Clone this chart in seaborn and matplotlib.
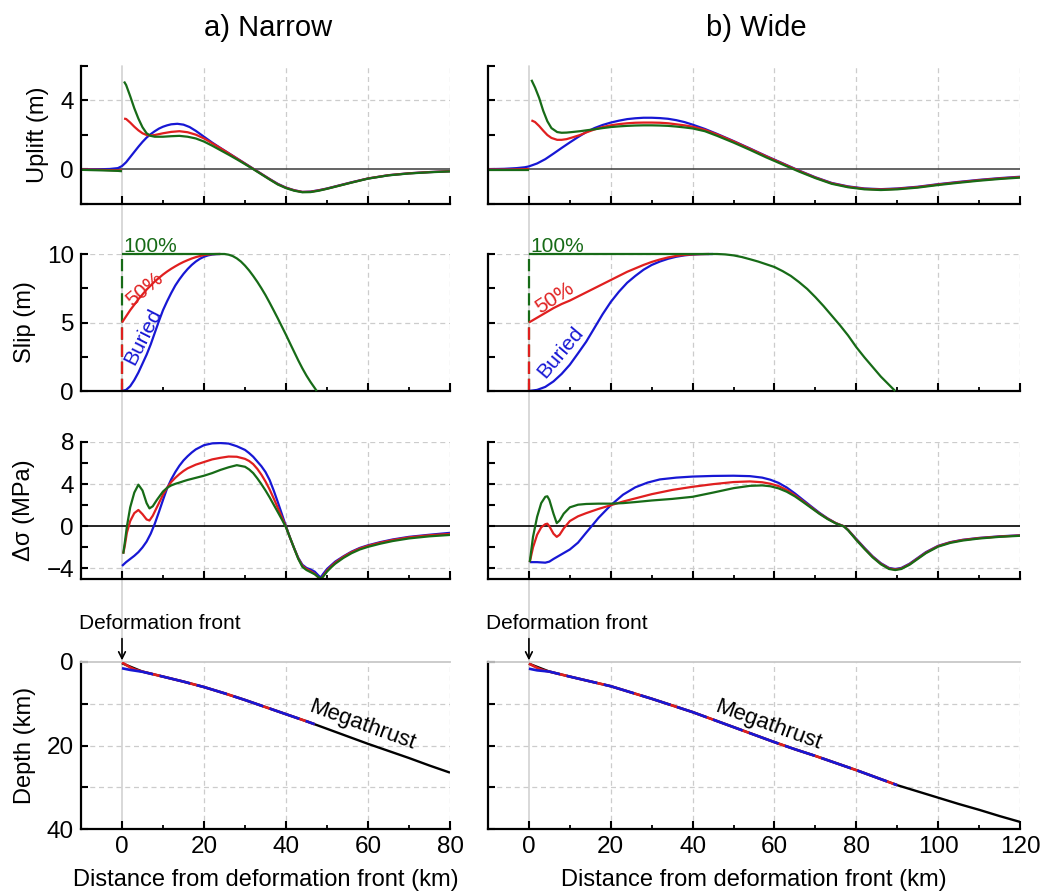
import numpy as np
import matplotlib
matplotlib.use("Agg")
import matplotlib.pyplot as plt
import matplotlib.transforms as mtransforms
from matplotlib.lines import Line2D
from matplotlib.ticker import FixedLocator, NullFormatter, FixedFormatter
import seaborn as sns

# ---------------------------------------------------------------- data
# Surface uplift (m), narrow slip model
NARROW_UPLIFT_BURIED_X = [-10, -6, -3, -1, 0, 1, 2, 3, 4, 5, 6, 7, 8, 9, 10, 11, 12, 13.5, 15, 16.5, 18,
                          20, 22, 24, 26, 28, 30, 32, 34, 36, 38, 40, 42, 44, 46, 48, 50,
                          53, 56, 60, 65, 70, 75, 80]
NARROW_UPLIFT_BURIED = [0, 0.01, 0.03, 0.08, 0.2, 0.42, 0.72, 1.02, 1.32, 1.6, 1.85, 2.05, 2.22, 2.37, 2.48, 2.56, 2.62,
                        2.65, 2.6, 2.46, 2.24,
                        1.9, 1.56, 1.25, 0.95, 0.65, 0.35, 0.05, -0.25, -0.55, -0.83, -1.05, -1.2, -1.3, -1.28, -1.2, -1.1,
                        -0.92, -0.74, -0.52, -0.33, -0.22, -0.15, -0.1]
NARROW_UPLIFT_SEAWARD_X = [-10, -5, -1, 0]
NARROW_UPLIFT_SEAWARD_50 = [0, -0.02, -0.05, -0.06]
NARROW_UPLIFT_SEAWARD_100 = [-0.02, -0.05, -0.08, -0.1]
NARROW_UPLIFT_X = [0.5, 1, 2, 3, 4, 5, 6, 7, 8,
                   10, 12, 14, 16, 18, 20, 22, 24, 26, 28, 30, 32, 34, 36, 38, 40, 42, 44, 46, 48, 50,
                   53, 56, 60, 65, 70, 75, 80]
NARROW_UPLIFT_50 = [2.95, 2.93, 2.72, 2.48, 2.27, 2.1, 2.0, 1.97, 2.0,
                    2.1, 2.18, 2.22, 2.16, 2.02, 1.8, 1.52, 1.24, 0.94, 0.64, 0.34, 0.04, -0.26, -0.56, -0.85,
                    -1.06, -1.21, -1.3, -1.29, -1.21, -1.11,
                    -0.93, -0.75, -0.52, -0.33, -0.22, -0.15, -0.1]
NARROW_UPLIFT_100 = [5.1, 4.9, 4.25, 3.55, 2.95, 2.45, 2.1, 1.95, 1.9,
                     1.9, 1.93, 1.95, 1.9, 1.8, 1.62, 1.38, 1.12, 0.86, 0.59, 0.31, 0.02, -0.28, -0.58, -0.87,
                     -1.08, -1.23, -1.32, -1.31, -1.23, -1.12,
                     -0.94, -0.76, -0.53, -0.34, -0.23, -0.16, -0.11]

# Surface uplift (m), wide slip model
WIDE_UPLIFT_BURIED_X = [-10, -6, -3, -1, 0, 2, 4, 6, 8, 10, 12, 14, 16, 18, 20, 22, 24, 26, 28, 30, 32, 34, 36, 38,
                        40, 43, 46, 50, 54, 58, 62, 66, 70, 74, 78, 82, 86, 90, 95, 100, 105, 110, 115, 120]
WIDE_UPLIFT_BURIED = [0.02, 0.04, 0.08, 0.13, 0.18, 0.35, 0.6, 0.92, 1.25, 1.57, 1.88, 2.17, 2.4, 2.58, 2.72, 2.83,
                      2.92, 2.97, 3.0, 3.0, 2.98, 2.94, 2.86, 2.75, 2.6, 2.35, 2.06, 1.65, 1.22, 0.78, 0.36, -0.06,
                      -0.45, -0.78, -0.98, -1.1, -1.14, -1.1, -1.0, -0.85, -0.72, -0.6, -0.5, -0.42]
WIDE_UPLIFT_SEAWARD_X = [-10, -5, -1, 0]
WIDE_UPLIFT_SEAWARD_50 = [0.0, 0.0, 0.02, 0.03]
WIDE_UPLIFT_SEAWARD_100 = [-0.02, -0.02, -0.02, -0.02]
WIDE_UPLIFT_X = [0.6, 1.5, 2.5, 3.5, 4.5, 5.5, 6.9, 8, 9.2, 10.5, 12.5, 14,
                 16, 18, 20, 22, 24, 26, 28, 30, 32, 34, 36, 38, 40,
                 43, 46, 50, 54, 58, 62, 66, 70, 74, 78, 82, 86, 90,
                 95, 100, 105, 110, 115, 120]
WIDE_UPLIFT_50 = [2.85, 2.75, 2.52, 2.25, 2.0, 1.83, 1.72, 1.72, 1.76, 1.85, 2.0, 2.15,
                  2.32, 2.46, 2.56, 2.63, 2.68, 2.71, 2.72, 2.72, 2.71, 2.68, 2.62, 2.56, 2.48,
                  2.3, 2.03, 1.63, 1.2, 0.76, 0.34, -0.08, -0.47, -0.8, -1.0, -1.12, -1.16, -1.12,
                  -1.02, -0.87, -0.74, -0.62, -0.52, -0.44]
WIDE_UPLIFT_100 = [5.2, 4.75, 4.15, 3.4, 2.8, 2.4, 2.17, 2.13, 2.14, 2.17, 2.22, 2.27,
                   2.33, 2.4, 2.46, 2.5, 2.53, 2.55, 2.56, 2.56, 2.55, 2.53, 2.49, 2.44, 2.38,
                   2.22, 1.95, 1.56, 1.14, 0.7, 0.29, -0.12, -0.5, -0.83, -1.03, -1.15, -1.19, -1.15,
                   -1.05, -0.9, -0.77, -0.65, -0.55, -0.47]

# Slip on the megathrust (m)
NARROW_SLIP_X = [0, 1, 2, 3, 4, 5, 6, 7, 8, 9, 10, 11, 12, 13, 14, 15, 16, 17, 18, 19, 20, 21, 22, 23, 24]
NARROW_SLIP_BURIED = [0, 0.08, 0.35, 0.8, 1.35, 2.0, 2.65, 3.4, 4.25, 5.1, 5.9, 6.55, 7.15, 7.7, 8.15, 8.55, 8.9,
                      9.2, 9.45, 9.65, 9.8, 9.9, 9.96, 9.99, 10]
NARROW_SLIP_50 = [5.0, 5.45, 5.9, 6.3, 6.7, 7.05, 7.4, 7.7, 8.0, 8.25, 8.5, 8.72, 8.92, 9.1, 9.27, 9.42, 9.55,
                  9.67, 9.77, 9.85, 9.92, 9.96, 9.99, 10, 10]
NARROW_SLIP_100_X = [0, 25, 26, 27, 28, 29, 30, 31, 32, 33, 34, 35, 36, 37, 38, 39, 40, 41, 42, 43, 44, 45, 46,
                     47, 47.5]
NARROW_SLIP_100 = [10, 10, 9.95, 9.85, 9.68, 9.45, 9.15, 8.8, 8.4, 7.97, 7.5, 7.0, 6.45, 5.88, 5.3, 4.7, 4.1,
                   3.47, 2.85, 2.23, 1.65, 1.12, 0.65, 0.22, 0]

WIDE_SLIP_BURIED_X = [0, 2, 4, 6, 8, 10, 12, 14, 16, 18, 20, 22, 24, 26, 28, 30, 32, 34, 36, 38, 40, 42, 45]
WIDE_SLIP_BURIED = [0, 0.08, 0.3, 0.7, 1.25, 1.92, 2.75, 3.6, 4.6, 5.6, 6.5, 7.25, 7.9, 8.4, 8.85, 9.2, 9.45,
                    9.65, 9.8, 9.9, 9.96, 9.99, 10]
WIDE_SLIP_50_X = [0, 2, 4, 6, 8, 10, 12, 14, 16, 18, 20, 22, 24, 26, 28, 30, 32, 34, 36, 38, 40, 42, 44]
WIDE_SLIP_50 = [5.0, 5.35, 5.7, 6.05, 6.35, 6.6, 6.9, 7.2, 7.5, 7.8, 8.1, 8.4, 8.7, 8.95, 9.2, 9.42, 9.6, 9.75,
                9.86, 9.93, 9.97, 9.99, 10]
WIDE_SLIP_100_X = [0, 46, 48, 50, 52, 54, 56, 58, 60, 62, 64, 66, 68, 70, 72, 74, 76, 78, 80, 82, 84, 86, 88,
                   89, 89.5]
WIDE_SLIP_100 = [10, 10, 9.97, 9.9, 9.78, 9.62, 9.45, 9.25, 9.05, 8.75, 8.4, 7.95, 7.45, 6.85, 6.2, 5.5, 4.8,
                 4.05, 3.2, 2.45, 1.75, 1.05, 0.45, 0.15, 0]

# Stress change (MPa)
NARROW_STRESS_BURIED_X = [0, 1, 2, 3, 4, 5, 6, 7, 8, 9, 10, 11, 12, 13, 14, 15, 16, 17, 18, 19, 20,
                          22, 24, 26, 28, 30,
                          31, 32, 33, 34, 35, 36, 37, 38, 39, 40, 41, 42, 43, 44, 45, 46, 47, 48,
                          48.5, 49, 50, 51, 52,
                          54, 56, 58, 60, 63, 66, 70, 75, 80]
NARROW_STRESS_BURIED = [-3.76, -3.4, -3.1, -2.8, -2.45, -2.0, -1.45, -0.7, 0.25, 1.35, 2.5, 3.6, 4.45, 5.15, 5.75,
                        6.25, 6.65, 7.0, 7.3, 7.5, 7.7,
                        7.87, 7.9, 7.85, 7.6, 7.25,
                        6.95, 6.6, 6.15, 5.7, 5.15, 4.4, 3.4, 2.3, 1.15, 0, -1.1, -2.1, -3.0, -3.65, -3.95, -4.1,
                        -4.3, -4.7,
                        -4.85, -4.55, -4.05, -3.7, -3.35,
                        -2.85, -2.4, -2.05, -1.8, -1.5, -1.25, -1.0, -0.8, -0.62]
NARROW_STRESS_X = [0.3, 0.7, 1.2, 2, 3, 4, 5, 6, 6.7, 7.5, 8.5,
                   10, 11, 12, 13, 14, 15, 16,
                   18, 20, 22, 24, 26, 28, 30,
                   31, 32, 33, 34, 35, 36, 37, 38, 39, 40, 41, 42, 43, 44, 45, 46, 47, 48,
                   48.5, 49, 50, 51, 52,
                   54, 56, 58, 60, 63, 66, 70, 75, 80]
NARROW_STRESS_50 = [-2.6, -1.8, -0.6, 0.5, 1.25, 1.55, 1.15, 0.65, 0.55, 1.0, 1.8,
                    3.0, 3.65, 4.2, 4.6, 4.95, 5.25, 5.5,
                    5.85, 6.1, 6.35, 6.5, 6.62, 6.6, 6.4,
                    6.2, 5.9, 5.45, 4.9, 4.25, 3.5, 2.65, 1.75, 0.85, -0.05, -1.1, -2.1, -3.05, -3.75, -4.05, -4.25,
                    -4.5, -4.9,
                    -5.05, -4.75, -4.2, -3.8, -3.45,
                    -2.9, -2.45, -2.1, -1.85, -1.55, -1.3, -1.05, -0.85, -0.72]
NARROW_STRESS_100 = [-2.6, -1.5, 0.0, 1.8, 3.2, 3.95, 3.4, 2.2, 1.7, 1.9, 2.5,
                     3.3, 3.65, 3.88, 4.03, 4.15, 4.28, 4.4,
                     4.6, 4.8, 5.05, 5.35, 5.6, 5.8, 5.65,
                     5.4, 5.05, 4.55, 4.0, 3.4, 2.75, 2.05, 1.35, 0.65, -0.1, -1.1, -2.1, -3.1, -3.85, -4.15, -4.35,
                     -4.55, -4.85,
                     -4.95, -4.8, -4.3, -3.9, -3.55,
                     -3.0, -2.55, -2.2, -1.95, -1.65, -1.4, -1.15, -0.95, -0.82]

WIDE_STRESS_BURIED_X = [0.2, 2, 4, 5, 6, 8, 10, 12, 14, 15.3,
                        17, 20, 23, 26, 29, 32, 36, 40, 45, 50,
                        54, 57, 59, 61, 63, 65, 67, 69, 71, 73,
                        75, 77, 78, 80, 82, 84, 86, 88, 89.5, 91,
                        93, 95, 97, 100, 103, 106, 110, 115, 120]
WIDE_STRESS_BURIED = [-3.4, -3.4, -3.45, -3.35, -3.1, -2.65, -2.2, -1.55, -0.6, 0,
                      0.8, 2.0, 3.0, 3.7, 4.15, 4.45, 4.62, 4.72, 4.78, 4.8,
                      4.76, 4.62, 4.42, 4.12, 3.68, 3.12, 2.5, 1.88, 1.28, 0.75,
                      0.3, 0, -0.35, -1.2, -2.05, -2.85, -3.5, -3.95, -4.05, -3.95,
                      -3.55, -3.0, -2.45, -1.85, -1.5, -1.28, -1.1, -0.95, -0.85]
WIDE_STRESS_X = [0.2, 1, 2, 3, 4, 4.5, 5, 6, 6.8, 7.5,
                 8.5, 10, 12, 14, 17, 20, 23, 26, 30, 35,
                 40, 45, 50, 54, 57, 59, 61, 63, 65, 67,
                 69, 71, 73, 75, 77, 78, 80, 82, 84, 86,
                 88, 89.5, 91, 93, 95, 97, 100, 103, 106, 110,
                 115, 120]
WIDE_STRESS_50 = [-3.4, -2.0, -0.8, -0.1, 0.2, 0.25, 0.0, -0.7, -1.0, -0.8,
                  -0.2, 0.5, 0.95, 1.25, 1.65, 2.0, 2.35, 2.65, 3.05, 3.45,
                  3.75, 4.0, 4.2, 4.26, 4.18, 4.04, 3.82, 3.45, 2.95, 2.38,
                  1.8, 1.22, 0.72, 0.3, 0.0, -0.35, -1.25, -2.1, -2.9, -3.55,
                  -4.0, -4.1, -4.0, -3.6, -3.05, -2.5, -1.88, -1.52, -1.3, -1.12,
                  -0.97, -0.87]
WIDE_STRESS_100 = [-3.4, -1.0, 0.9, 2.2, 2.8, 2.85, 2.5, 1.2, 0.3, 0.55,
                   1.2, 1.8, 2.05, 2.12, 2.15, 2.15, 2.2, 2.3, 2.45, 2.6,
                   2.8, 3.2, 3.62, 3.84, 3.88, 3.8, 3.6, 3.28, 2.84, 2.3,
                   1.74, 1.18, 0.68, 0.27, -0.02, -0.38, -1.3, -2.15, -2.95, -3.6,
                   -4.05, -4.15, -4.05, -3.65, -3.1, -2.55, -1.93, -1.57, -1.35, -1.16,
                   -1.0, -0.9]

# Megathrust geometry, depth (km)
NARROW_FAULT_X = [0, 5, 10, 15, 20, 25, 30, 35, 40, 45, 50, 55, 60, 65, 70, 75, 80]
NARROW_FAULT_Z = [0.3, 2.3, 3.5, 4.7, 6.0, 7.5, 9.1, 10.8, 12.5, 14.2, 16.0, 17.8, 19.6, 21.3, 23.0, 24.8, 26.5]
NARROW_RUPT_X = [0, 1, 2, 3, 4, 5, 10, 15, 20, 25, 30, 35, 40, 45, 47]
NARROW_RUPT_Z = [0.1, 0.7, 1.3, 1.75, 2.05, 2.3, 3.5, 4.7, 6.0, 7.5, 9.1, 10.8, 12.5, 14.2, 14.9]
NARROW_BURIED_X = [0, 2, 4, 5, 10, 15, 20, 25, 30, 35, 40, 45, 47]
NARROW_BURIED_Z = [1.5, 1.9, 2.2, 2.35, 3.5, 4.7, 6.0, 7.5, 9.1, 10.8, 12.5, 14.2, 14.9]

WIDE_FAULT_X = [0, 5, 10, 15, 20, 25, 30, 35, 40, 45, 50, 55, 60, 65, 70, 75, 80, 85, 90, 95, 100, 105, 110,
                115, 120]
WIDE_FAULT_Z = [0.4, 2.3, 3.5, 4.65, 5.8, 7.3, 8.8, 10.4, 12.0, 13.8, 15.6, 17.4, 19.2, 20.9, 22.5, 24.2, 25.9,
                27.7, 29.5, 31.0, 32.5, 34.0, 35.4, 36.9, 38.3]
WIDE_RUPT_X = [0, 1, 2, 3, 4, 5, 10, 15, 20, 25, 30, 35, 40, 45, 50, 55, 60, 65, 70, 75, 80, 85, 90]
WIDE_RUPT_Z = [0.4, 0.9, 1.4, 1.8, 2.1, 2.3, 3.5, 4.65, 5.8, 7.3, 8.8, 10.4, 12.0, 13.8, 15.6, 17.4, 19.2, 20.9,
               22.5, 24.2, 25.9, 27.7, 29.5]
WIDE_BURIED_X = [0, 2, 4, 5, 10, 15, 20, 25, 30, 35, 40, 45, 50, 55, 60, 65, 70, 75, 80, 85, 90]
WIDE_BURIED_Z = [1.6, 2.0, 2.2, 2.3, 3.5, 4.65, 5.8, 7.3, 8.8, 10.4, 12.0, 13.8, 15.6, 17.4, 19.2, 20.9, 22.5,
                 24.2, 25.9, 27.7, 29.5]

COLUMN_TITLES = ["a) Narrow", "b) Wide"]
ROW_LABELS = ["Uplift (m)", "Slip (m)", "Δσ (MPa)", "Depth (km)"]
X_LABEL = "Distance from deformation front (km)"

# ---------------------------------------------------------------- style
sns.set_theme(style="white")
plt.rcParams["font.family"] = ["Liberation Sans", "DejaVu Sans"]
plt.rcParams["axes.unicode_minus"] = True
plt.rcParams["text.color"] = "black"
plt.rcParams["axes.labelcolor"] = "black"
plt.rcParams["xtick.color"] = "black"
plt.rcParams["ytick.color"] = "black"

BLUE = "#1717d4"
RED = "#e01f1f"
GREEN = "#176b17"
GRID = "#cccccc"
LW = 1.6
TICK_FS = 17.5
LABEL_FS = 17

W, H = 1052, 896
fig = plt.figure(figsize=(W / 100, H / 100), dpi=100)
fig.patch.set_facecolor("white")

COLS = [dict(x0=81, x1=450, xmax=80), dict(x0=488, x1=1020, xmax=120)]
ROWS = [(66, 204), (254, 391), (442, 579), (662, 829)]


def add_axes(col, row):
    x0, x1 = COLS[col]["x0"], COLS[col]["x1"]
    yt, yb = ROWS[row]
    ax = fig.add_axes([x0 / W, 1 - yb / H, (x1 - x0) / W, (yb - yt) / H])
    ax.patch.set_visible(False)
    return ax


def line(ax, x, y, color, lw=LW, dashes=None, clip=True, z=2):
    sns.lineplot(x=np.asarray(x, float), y=np.asarray(y, float), ax=ax, color=color, lw=lw,
                 estimator=None, sort=False, legend=False, zorder=z)
    ln = ax.lines[-1]
    ln.set_solid_capstyle("butt")
    if dashes is not None:
        ln.set_dashes(dashes)
    ln.set_clip_on(clip)
    return ln


def style_axes(ax, col, row, ymaj, ymin, ylabels, hgrid, bottom_row):
    xmax = COLS[col]["xmax"]
    ax.set_xlim(-10, xmax)
    xmaj = list(range(0, xmax + 1, 20))
    xmin = list(range(10, xmax, 20))
    ax.xaxis.set_major_locator(FixedLocator(xmaj))
    ax.xaxis.set_minor_locator(FixedLocator(xmin))
    ax.yaxis.set_major_locator(FixedLocator(ymaj))
    ax.yaxis.set_minor_locator(FixedLocator(ymin))
    for s in ["top", "right"]:
        ax.spines[s].set_visible(False)
    for s in ["left", "bottom"]:
        ax.spines[s].set_color("black")
        ax.spines[s].set_linewidth(1.6)
    ax.tick_params(axis="x", which="major", direction="in", length=6, width=1.5, color="black",
                   labelsize=TICK_FS, pad=5, bottom=True, labelcolor="black")
    ax.tick_params(axis="x", which="minor", direction="in", length=3, width=1.3, color="black", bottom=True)
    ax.tick_params(axis="y", which="both", direction="in", length=5, width=1.5, color="black",
                   labelsize=TICK_FS, pad=5, left=True, labelcolor="black")
    if not bottom_row:
        ax.xaxis.set_major_formatter(NullFormatter())
    else:
        ax.set_xlabel(X_LABEL, fontsize=LABEL_FS, labelpad=8, color="black")
    if col == 1:
        ax.yaxis.set_major_formatter(NullFormatter())
    else:
        ax.yaxis.set_major_formatter(FixedFormatter([str(v).replace("-", "\u2212") for v in ylabels]))
        ax.set_ylabel(ROW_LABELS[row], fontsize=LABEL_FS, labelpad=8, color="black")
    for v in xmaj[1:]:
        ax.axvline(v, color=GRID, lw=0.9, dashes=(4, 3), zorder=0)
    for v in hgrid:
        ax.axhline(v, color=GRID, lw=0.9, dashes=(4, 3), zorder=0)


# ---------------------------------------------------------------- panels
uplift = [
    (NARROW_UPLIFT_BURIED_X, NARROW_UPLIFT_BURIED, NARROW_UPLIFT_SEAWARD_X, NARROW_UPLIFT_SEAWARD_50,
     NARROW_UPLIFT_SEAWARD_100, NARROW_UPLIFT_X, NARROW_UPLIFT_50, NARROW_UPLIFT_100),
    (WIDE_UPLIFT_BURIED_X, WIDE_UPLIFT_BURIED, WIDE_UPLIFT_SEAWARD_X, WIDE_UPLIFT_SEAWARD_50,
     WIDE_UPLIFT_SEAWARD_100, WIDE_UPLIFT_X, WIDE_UPLIFT_50, WIDE_UPLIFT_100),
]
slip = [
    (NARROW_SLIP_X, NARROW_SLIP_BURIED, NARROW_SLIP_X, NARROW_SLIP_50, NARROW_SLIP_100_X, NARROW_SLIP_100),
    (WIDE_SLIP_BURIED_X, WIDE_SLIP_BURIED, WIDE_SLIP_50_X, WIDE_SLIP_50, WIDE_SLIP_100_X, WIDE_SLIP_100),
]
stress = [
    (NARROW_STRESS_BURIED_X, NARROW_STRESS_BURIED, NARROW_STRESS_X, NARROW_STRESS_50, NARROW_STRESS_100),
    (WIDE_STRESS_BURIED_X, WIDE_STRESS_BURIED, WIDE_STRESS_X, WIDE_STRESS_50, WIDE_STRESS_100),
]
fault = [
    (NARROW_FAULT_X, NARROW_FAULT_Z, NARROW_RUPT_X, NARROW_RUPT_Z, NARROW_BURIED_X, NARROW_BURIED_Z),
    (WIDE_FAULT_X, WIDE_FAULT_Z, WIDE_RUPT_X, WIDE_RUPT_Z, WIDE_BURIED_X, WIDE_BURIED_Z),
]
# label placement (x, y, rotation) for the slip annotations
slip_text = [
    dict(p50=(5.6, 7.45, 40), buried=(5.2, 3.95, 63), full=(0.3, 10.15)),
    dict(p50=(6.4, 6.8, 33), buried=(7.8, 2.85, 50), full=(0.3, 10.15)),
]

for col in range(2):
    # --- uplift
    ax = add_axes(col, 0)
    bx, by, sx, s50, s100, ux, u50, u100 = uplift[col]
    ax.axhline(0, color="#3a3a3a", lw=1.1, zorder=1)
    line(ax, bx, by, BLUE)
    line(ax, sx, s50, RED)
    line(ax, ux, u50, RED)
    line(ax, sx, s100, GREEN)
    line(ax, ux, u100, GREEN)
    ax.set_ylim(-2, 6)
    style_axes(ax, col, 0, [0, 4], [-2, 2, 6], [0, 4], [4], False)
    top_ax = ax

    # --- slip
    ax = add_axes(col, 1)
    bx, by, rx, ry, gx, gy = slip[col]
    line(ax, [0, 0], [0, 10], GREEN, dashes=(5.5, 2.2), clip=False)
    line(ax, [0, 0], [0, 5], RED, dashes=(5.5, 2.2), clip=False)
    line(ax, bx, by, BLUE, clip=False)
    line(ax, rx, ry, RED, clip=False)
    line(ax, gx, gy, GREEN, clip=False, z=3)
    ax.set_ylim(0, 10)
    style_axes(ax, col, 1, [0, 5, 10], [2.5, 7.5], [0, 5, 10], [5, 10], False)
    t = slip_text[col]
    ax.text(t["full"][0], t["full"][1], "100%", color=GREEN, fontsize=15, ha="left", va="baseline",
            clip_on=False)
    ax.text(t["p50"][0], t["p50"][1], "50%", color=RED, fontsize=15, ha="center", va="center",
            rotation=t["p50"][2], rotation_mode="anchor")
    ax.text(t["buried"][0], t["buried"][1], "Buried", color=BLUE, fontsize=15, ha="center", va="center",
            rotation=t["buried"][2], rotation_mode="anchor")

    # --- stress change
    ax = add_axes(col, 2)
    bx, by, sx, s50, s100 = stress[col]
    ax.axhline(0, color="black", lw=1.2, zorder=1)
    line(ax, bx, by, BLUE)
    line(ax, sx, s50, RED)
    line(ax, sx, s100, GREEN)
    ax.set_ylim(-5, 8)
    style_axes(ax, col, 2, [-4, 0, 4, 8], [-2, 2, 6], [-4, 0, 4, 8], [-4, 4, 8], False)

    # --- megathrust geometry
    ax = add_axes(col, 3)
    fx, fz, rx, rz, bx, bz = fault[col]
    line(ax, fx, fz, "black", lw=1.7)
    line(ax, rx, rz, RED, lw=1.9, z=3)
    line(ax, bx, bz, BLUE, lw=1.9, dashes=(12, 2.5), z=4)
    ax.set_ylim(40, 0)
    style_axes(ax, col, 3, [0, 20, 40], [10, 30], [0, 20, 40], [10, 20, 30], True)
    ax.spines["top"].set_visible(True)
    ax.spines["top"].set_color("#c8c8c8")
    ax.spines["top"].set_linewidth(1.3)
    ax.text(58.5, 15.1, "Megathrust", fontsize=16, rotation=-20, ha="center", va="center",
            rotation_mode="anchor")
    ax.text(-10.5, -7.9, "Deformation front", fontsize=15, ha="left", va="baseline", clip_on=False)
    ax.annotate("", xy=(0, -0.4), xytext=(0, -5.6), annotation_clip=False,
                arrowprops=dict(arrowstyle="->", color="black", lw=1.2, mutation_scale=12,
                                shrinkA=0, shrinkB=0))

    # light reference line through the deformation front spanning every panel
    trans = mtransforms.blended_transform_factory(top_ax.transData, fig.transFigure)
    fig.add_artist(Line2D([0, 0], [1 - ROWS[0][0] / H, 1 - ROWS[3][1] / H], transform=trans,
                          color="#d6d6d6", lw=1.3, zorder=-1))

    xc = (COLS[col]["x0"] + COLS[col]["x1"]) / 2 / W
    fig.text(xc + 0.002, 1 - 36 / H, COLUMN_TITLES[col], fontsize=21, ha="center", va="baseline",
             color="black")

fig.savefig("out.png", dpi=100, facecolor="white")
